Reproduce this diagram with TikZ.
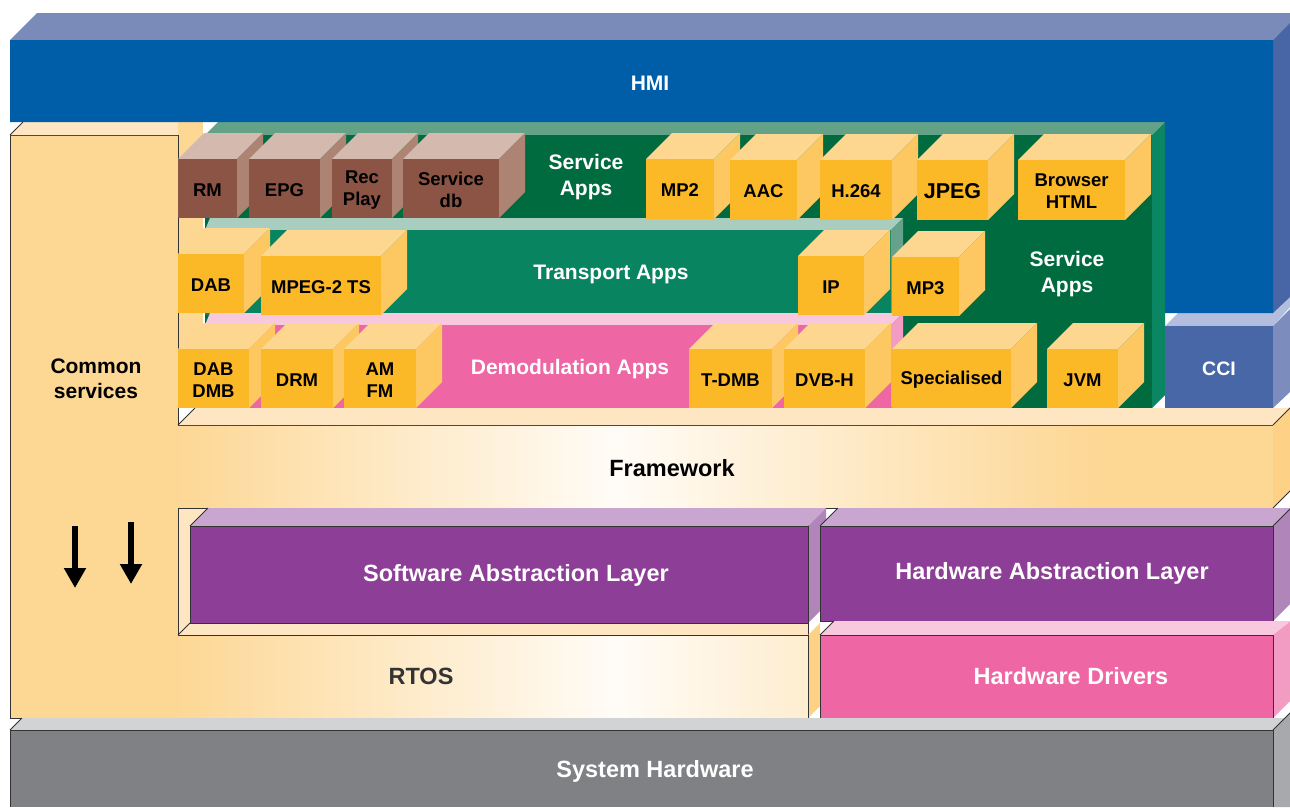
\documentclass[tikz,border=0pt]{standalone}
\usepackage{fontspec}
\setmainfont{Liberation Sans}
\usetikzlibrary{arrows.meta}
\definecolor{hmiF}{HTML}{005EA8}\definecolor{hmiT}{HTML}{7A8BBA}\definecolor{hmiS}{HTML}{4866A6}
\definecolor{cciF}{HTML}{4767A6}\definecolor{cciT}{HTML}{B3BDDD}\definecolor{cciS}{HTML}{7B8CBD}
\definecolor{grnF}{HTML}{006B3F}\definecolor{grnT}{HTML}{64A287}\definecolor{grnS}{HTML}{0A8762}
\definecolor{tealF}{HTML}{088460}\definecolor{tealT}{HTML}{A9CDBE}\definecolor{tealS}{HTML}{66A28B}
\definecolor{pinkF}{HTML}{EE66A3}\definecolor{pinkT}{HTML}{F7C8DE}\definecolor{pinkS}{HTML}{F29BC3}
\definecolor{yF}{HTML}{FBB827}\definecolor{yT}{HTML}{FDD690}\definecolor{yS}{HTML}{FDC862}
\definecolor{bF}{HTML}{8B5444}\definecolor{bT}{HTML}{D4B9AE}\definecolor{bS}{HTML}{AD8474}
\definecolor{orng}{HTML}{FDD794}\definecolor{orngL}{HTML}{FEE6C2}\definecolor{orngS}{HTML}{FDD186}
\definecolor{offw}{HTML}{FFFCF7}
\definecolor{purF}{HTML}{8D3E96}\definecolor{purT}{HTML}{C8A6CF}\definecolor{purS}{HTML}{B085BA}
\definecolor{grayF}{HTML}{808184}\definecolor{grayT}{HTML}{D2D3D5}\definecolor{grayS}{HTML}{A8A9AC}
\definecolor{edge}{HTML}{333333}
\pgfdeclarehorizontalshading{orshade}{100bp}{color(0bp)=(orng); color(31.5bp)=(orng);
  color(49bp)=(offw); color(68bp)=(orng); color(100bp)=(orng)}
\newcommand{\cubebox}[7]{%
  \fill[#7top] (#2,#3) -- (#2+26,#3-26) -- (#4+26,#3-26) -- (#4,#3) -- cycle;
  \fill[#7side] (#4,#3) -- (#4+26,#3-26) -- (#4+26,#5-26) -- (#4,#5) -- cycle;
  \fill[#7front] (#2,#3) rectangle (#4,#5);
  \node[lbox] (#1) at ({(#2+#4)/2},{(#3+#5)/2+1.5}) {#6};
}
\begin{document}
\begin{tikzpicture}[x=1pt,y=-1pt,
  ytop/.style={fill=yT}, yside/.style={fill=yS}, yfront/.style={fill=yF},
  btop/.style={fill=bT}, bside/.style={fill=bS}, bfront/.style={fill=bF},
  lbig/.style={font=\fontsize{23.5}{26}\selectfont\bfseries, inner sep=0, align=center},
  lmid/.style={font=\fontsize{21}{26}\selectfont\bfseries, inner sep=0, align=center},
  lbox/.style={font=\fontsize{18.5}{22}\selectfont\bfseries, inner sep=0, align=center, text=black},
  outl/.style={draw=edge, line width=0.8pt},
  arr/.style={line width=5.5pt, -{Triangle[width=21pt,length=20pt]}}]
\useasboundingbox (0,0) rectangle (1290,807);
\fill[white] (0,0) rectangle (1290,807);

% orange block: common services, framework, RTOS
\shade[shading=orshade, outl]
  (10,135) -- (178,135) -- (178,425) -- (1273,425) -- (1273,508) -- (808,508)
  -- (808,718) -- (10,718) -- cycle;
\fill[orngL] (10,135) -- (23,122) -- (191,122) -- (178,135) -- cycle;
\draw[outl] (10,135) -- (23,122);
% recess wall behind apps
\fill[orng] (178,122) rectangle (204,408);
\draw[white, line width=1.5pt] (204,122) -- (204,408);
\draw[outl] (178,135) -- (178,425);
% framework top face
\fill[orngL] (178,425) -- (195,408) -- (1291,408) -- (1273,425) -- cycle;
\draw[outl] (178,425) -- (195,408);
% framework right side
\fill[orngS] (1273,425) -- (1291,407) -- (1291,490) -- (1273,508) -- cycle;
\draw[outl] (1273,425) -- (1291,407);
\draw[outl] (1273,508) -- (1291,490);

% green service apps container
\fill[grnT] (205,135) -- (218,122) -- (1165,122) -- (1152,135) -- cycle;
\fill[grnS] (1152,135) -- (1165,122) -- (1165,395) -- (1152,408) -- cycle;
\fill[grnF] (205,135) rectangle (1152,408);
% transport slab
\fill[tealT] (205,230) -- (210,218) -- (903,218) -- (891,230) -- cycle;
\fill[tealS] (891,230) -- (903,218) -- (903,303) -- (891,315) -- cycle;
\fill[tealF] (205,230) rectangle (891,315);
% demodulation slab
\fill[pinkT] (205,325) -- (210,313) -- (903,313) -- (891,325) -- cycle;
\fill[pinkS] (891,325) -- (903,313) -- (903,396) -- (891,408) -- cycle;
\fill[pinkF] (205,325) rectangle (891,408);

% row 1
\cubebox{rm}{178}{159}{237}{218}{RM}{b}
\cubebox{epg}{249}{159}{320}{218}{EPG}{b}
\cubebox{rec}{332}{159}{392}{218}{Rec\\Play}{b}
\cubebox{sdb}{403}{159}{499}{218}{Service\\db}{b}
\cubebox{mp2}{646}{159}{714}{219}{MP2}{y}
\cubebox{aac}{730}{160}{797}{220}{AAC}{y}
\cubebox{h264}{820}{160}{892}{220}{H.264}{y}
\cubebox{jpeg}{917}{160}{988}{220}{\fontsize{21.5}{24}\selectfont JPEG}{y}
\cubebox{brw}{1018}{160}{1125}{220}{Browser\\HTML}{y}
% row 2
\cubebox{dab}{178}{254}{244}{313}{DAB}{y}
\cubebox{mpeg}{261}{256}{381}{315}{MPEG-2 TS}{y}
\cubebox{ip}{798}{256}{864}{315}{IP}{y}
\cubebox{mp3}{892}{257}{959}{316}{MP3}{y}
% row 3
\cubebox{dabdmb}{178}{349}{249}{408}{DAB\\DMB}{y}
\cubebox{drm}{261}{349}{333}{408}{DRM}{y}
\cubebox{amfm}{344}{349}{416}{408}{AM\\FM}{y}
\cubebox{tdmb}{689}{349}{772}{408}{T-DMB}{y}
\cubebox{dvbh}{784}{349}{865}{408}{DVB-H}{y}
\cubebox{spec}{892}{349}{1011}{408}{Specialised}{y}
\cubebox{jvm}{1047}{349}{1118}{408}{JVM}{y}

% CCI
\fill[cciT] (1165,326) -- (1195,296) -- (1300,296) -- (1273,326) -- cycle;
\fill[cciS] (1273,326) -- (1291,308) -- (1291,391) -- (1273,408) -- cycle;
\fill[cciF] (1165,326) rectangle (1273,408);

% HMI
\fill[hmiT] (10,40) -- (37,13) -- (1291,13) -- (1291,23) -- (1273,40) -- cycle;
\fill[hmiS] (1273,40) -- (1291,22) -- (1291,296) -- (1273,313) -- cycle;
\fill[hmiF] (10,40) -- (1273,40) -- (1273,313) -- (1165,313) -- (1165,122) -- (10,122) -- cycle;

% SAL recess
\fill[orngL] (178,508) rectangle (808,635);
\draw[outl] (178,508) rectangle (808,635);
\draw[outl] (178,635) -- (190,623);
% SAL
\fill[purT] (190,526) -- (208,508) -- (826,508) -- (808,526) -- cycle;
\fill[purS] (808,526) -- (826,508) -- (826,605) -- (808,623) -- cycle;
\fill[purF] (190,526) rectangle (808,623);
\draw[outl] (190,526) rectangle (808,623);
\draw[outl] (190,526) -- (208,508);
% HAL
\fill[purT] (820,526) -- (838,508) -- (1291,508) -- (1273,526) -- cycle;
\fill[purS] (1273,526) -- (1291,508) -- (1291,603) -- (1273,621) -- cycle;
\fill[purF] (820,526) rectangle (1273,621);
\draw[outl] (820,526) rectangle (1273,621);
\draw[outl] (820,526) -- (838,508);
\draw[outl] (1273,526) -- (1291,508);
% RTOS right side
\fill[orngS] (808,635) -- (820,623) -- (820,706) -- (808,718) -- cycle;
\draw[outl] (808,635) -- (808,718);
% Hardware drivers
\fill[pinkT] (820,635) -- (834,621) -- (1291,621) -- (1273,635) -- cycle;
\fill[pinkS] (1273,635) -- (1291,621) -- (1291,700) -- (1273,718) -- cycle;
\fill[pinkF] (820,635) rectangle (1273,718);
\draw[outl] (820,635) rectangle (1273,718);
\draw[outl] (820,635) -- (834,621);
% System hardware
\fill[grayT] (10,730) -- (22,718) -- (1291,718) -- (1273,730) -- cycle;
\fill[grayS] (1273,730) -- (1291,712) -- (1291,807) -- (1273,807) -- cycle;
\fill[grayF] (10,730) rectangle (1273,807);
\draw[outl] (10,807) -- (10,730) -- (1273,730) -- (1273,807);
\draw[outl] (10,730) -- (22,718);
\draw[outl] (1273,730) -- (1291,712);

% arrows
\coordinate (a1s) at (75,526); \coordinate (a1e) at (75,588);
\coordinate (a2s) at (131,522); \coordinate (a2e) at (131,584);
\draw[arr] (a1s) -- (a1e);
\draw[arr] (a2s) -- (a2e);

% labels
\node[lmid, white] (hmi) at (650,83) {HMI};
\node[lmid, white] (svc1) at (586,177) {Service\\Apps};
\node[lmid, white] (trn) at (611,274) {Transport Apps};
\node[lmid, white] (dem) at (570,369) {Demodulation Apps};
\node[lmid, white] (svc2) at (1067,274) {Service\\Apps};
\node[lmid, text=black, font=\fontsize{21}{25}\selectfont\bfseries] (cs) at (96,379) {Common\\services};
\node[lbox, font=\fontsize{19.5}{22}\selectfont\bfseries, white] (cci) at (1219,369) {CCI};
\node[lbig, text=black] (fw) at (672,468) {Framework};
\node[lbig, white] (sal) at (516,575) {Software Abstraction Layer};
\node[lbig, white] (hal) at (1052,573) {Hardware Abstraction Layer};
\node[lbig, text=edge] (rtos) at (421,676) {RTOS};
\node[lbig, white] (hd) at (1071,676) {Hardware Drivers};
\node[lbig, white] (sh) at (655,771) {System Hardware};
\end{tikzpicture}
\end{document}
